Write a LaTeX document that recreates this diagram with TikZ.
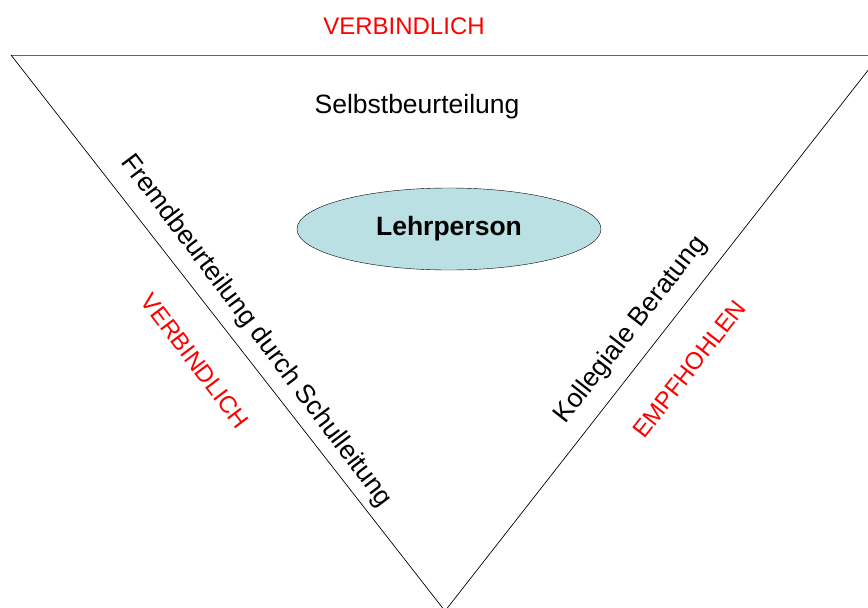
\documentclass[tikz,border=0pt]{standalone}
\usepackage{fontspec}
\setmainfont{Liberation Sans}
\usetikzlibrary{shapes.geometric}
\definecolor{kern}{RGB}{187,224,227}
\tikzset{
  label/.style={inner sep=0pt,font=\fontsize{26.5}{31}\selectfont},
  redlabel/.style={label,text=red,font=\fontsize{24}{29}\selectfont}
}
\begin{document}
\begin{tikzpicture}[x=1pt,y=-1pt]
        \useasboundingbox (0,0) rectangle (868,608);
        \coordinate (tl) at (11,55);
        \coordinate (tr) at (880,55);
        \coordinate (bot) at (445,611);
        \draw[black!60,line width=1pt] (tl) -- (tr);
        \draw[line width=0.7pt] (tl) -- (bot) -- (tr);
        \node[ellipse,draw,fill=kern,minimum width=304pt,minimum height=82pt,font=\bfseries\fontsize{26.5}{31}\selectfont] (lehrer) at (449,229) {Lehrperson};
        \node[redlabel] (obenrot) at (404,26) {VERBINDLICH};
        \node[label] (selbst) at (417,107) {Selbstbeurteilung};
        \node[label,rotate=-53] (fremd) at (256,331) {Fremdbeurteilung durch Schulleitung};
        \node[redlabel,rotate=-53] (linksrot) at (195,361) {VERBINDLICH};
        \node[label,rotate=52] (kollegial) at (631,330) {Kollegiale Beratung};
        \node[redlabel,rotate=52] (rechtsrot) at (689,369) {EMPFHOHLEN};
    \end{tikzpicture}
\end{document}
